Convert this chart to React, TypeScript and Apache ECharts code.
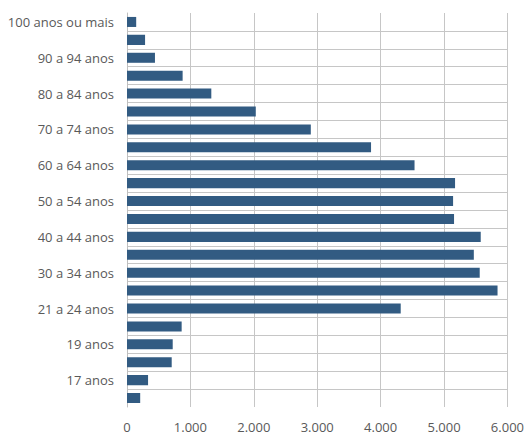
import React, { useEffect, useRef } from "react";
import * as echarts from "echarts";

const categories = [
  "16 anos", "17 anos", "18 anos", "19 anos", "20 anos",
  "21 a 24 anos", "25 a 29 anos", "30 a 34 anos", "35 a 39 anos",
  "40 a 44 anos", "45 a 49 anos", "50 a 54 anos", "55 a 59 anos",
  "60 a 64 anos", "65 a 69 anos", "70 a 74 anos", "75 a 79 anos",
  "80 a 84 anos", "85 a 89 anos", "90 a 94 anos", "95 a 99 anos",
  "100 anos ou mais",
];

const values = [
  208, 332, 705, 721, 862,
  4317, 5844, 5563, 5470,
  5579, 5158, 5143, 5174,
  4535, 3849, 2899, 2031,
  1330, 877, 441, 285,
  145,
];

const xTicks = { min: 0, max: 6000, interval: 1000 };

function fmt(v: number): string {
  return String(v).replace(/\B(?=(\d{3})+(?!\d))/g, ".");
}

export default function App() {
  const ref = useRef<HTMLDivElement>(null);
  useEffect(() => {
    document.body.style.margin = "0";
    const chart = echarts.init(ref.current!, undefined, { renderer: "svg" });
    chart.setOption({
      animation: false,
      grid: { left: 127, right: 15, top: 13, bottom: 27, containLabel: false },
      xAxis: {
        type: "value",
        min: xTicks.min,
        max: xTicks.max,
        interval: xTicks.interval,
        axisLine: { show: false },
        axisTick: { show: false },
        axisLabel: {
          formatter: (v: number) => fmt(v),
          color: "#595959",
          fontFamily: "Open Sans",
          fontSize: 13,
          margin: 13,
        },
        splitLine: { show: true, lineStyle: { color: "#c6c6c6", width: 1 } },
      },
      yAxis: {
        type: "category",
        data: categories,
        axisLine: { show: true, lineStyle: { color: "#bfbfbf", width: 1 } },
        axisTick: { show: false, interval: 0 },
        axisLabel: {
          interval: (i: number) => i % 2 === 1,
          color: "#595959",
          fontFamily: "Open Sans",
          fontSize: 13,
          margin: 13,
        },
        splitLine: {
          show: true,
          interval: 0,
          showMinLine: false,
          showMaxLine: false,
          lineStyle: { color: "#c6c6c6", width: 1 },
        },
      },
      series: [
        {
          type: "bar",
          data: values,
          barCategoryGap: "44%",
          itemStyle: { color: "#325b82" },
        },
      ],
    });
    return () => chart.dispose();
  }, []);
  return <div ref={ref} style={{ width: 527, height: 434 }} />;
}
